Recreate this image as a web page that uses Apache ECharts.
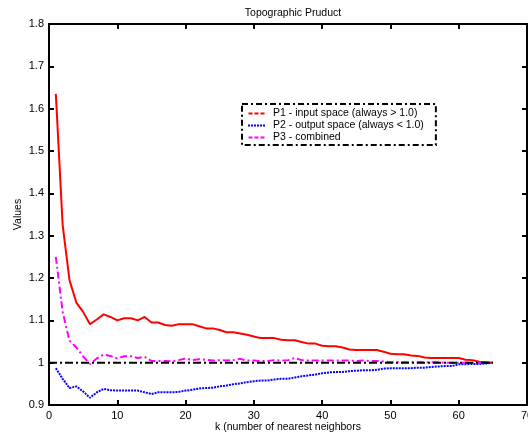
<!DOCTYPE html>
<html>
<head>
<meta charset="utf-8">
<script src="https://cdn.jsdelivr.net/npm/echarts@6/dist/echarts.min.js"></script>
<style>html,body{margin:0;padding:0;background:#fff}#c{width:528px;height:436px}</style>
</head>
<body>
<div id="c"></div>
<script>
var kValues = [1,2,3,4,5,6,7,8,9,10,11,12,13,14,15,16,17,18,19,20,21,22,23,24,25,26,27,28,29,30,31,32,33,34,35,36,37,38,39,40,41,42,43,44,45,46,47,48,49,50,51,52,53,54,55,56,57,58,59,60,61,62,63,64,65];
var p1 = [1.635,1.325,1.195,1.142,1.120,1.091,1.102,1.114,1.108,1.100,1.105,1.105,1.100,1.108,1.095,1.095,1.089,1.087,1.091,1.091,1.091,1.086,1.081,1.081,1.077,1.072,1.072,1.069,1.066,1.062,1.058,1.058,1.058,1.054,1.053,1.053,1.049,1.045,1.045,1.040,1.039,1.039,1.036,1.031,1.030,1.030,1.030,1.030,1.026,1.021,1.020,1.020,1.017,1.016,1.012,1.011,1.011,1.011,1.011,1.011,1.007,1.006,1.002,1.001,1.000];
var p2 = [0.987,0.962,0.940,0.944,0.932,0.917,0.930,0.938,0.935,0.934,0.934,0.934,0.934,0.930,0.926,0.930,0.930,0.930,0.931,0.934,0.936,0.939,0.940,0.941,0.944,0.946,0.949,0.951,0.954,0.956,0.958,0.958,0.960,0.962,0.962,0.965,0.968,0.970,0.972,0.975,0.977,0.978,0.978,0.980,0.981,0.982,0.982,0.983,0.986,0.987,0.987,0.987,0.987,0.988,0.988,0.990,0.991,0.992,0.992,0.996,0.996,0.997,0.997,0.998,1.000];
var p3 = [1.250,1.120,1.052,1.036,1.015,0.997,1.010,1.019,1.016,1.010,1.015,1.015,1.011,1.014,1.004,1.004,1.004,1.003,1.006,1.010,1.006,1.008,1.007,1.005,1.006,1.005,1.006,1.009,1.005,1.005,1.004,1.004,1.006,1.005,1.006,1.011,1.006,1.005,1.005,1.005,1.005,1.005,1.005,1.005,1.004,1.005,1.004,1.004,1.003,1.001,1.001,1.001,1.001,1.001,1.001,1.001,1.001,1.000,1.000,1.000,1.000,1.000,1.000,1.000,1.000];
var refX = [0, 65];
var refY = [1, 1];
var names = ['P1 - input space (always > 1.0)', 'P2 - output space (always < 1.0)', 'P3 - combined'];

function pairs(xs, ys){ return xs.map(function(x,i){ return [x, ys[i]]; }); }

var FONT = "'Liberation Sans', Arial, sans-serif";
var dashIcon = 'path://M0,0h4v2h-4z M6,0h4v2h-4z M12,0h4v2h-4z';
var dotIcon = 'path://M0,0h2v2h-2z M3,0h2v2h-2z M6,0h2v2h-2z M9,0h2v2h-2z M12,0h2v2h-2z M15,0h2v2h-2z';
var chart = echarts.init(document.getElementById('c'), null, {renderer:'canvas'});
var axisLine = {show:true, onZero:false, lineStyle:{color:'#000', width:2}};
var tick = {show:true, inside:true, length:5, lineStyle:{color:'#000', width:2}};

chart.setOption({
  animation:false,
  backgroundColor:'#fff',
  title:{text:'Topographic Pruduct', left:288, textAlign:'center', top:3,
    textStyle:{fontSize:10.5, fontWeight:'normal', color:'#000', fontFamily:FONT}},
  grid:{left:49, right:1, top:24, bottom:31, containLabel:false, outerBoundsMode:'none'},
  legend:{
    orient:'vertical', left:242, top:104,
    padding:[4,12,2,6], itemGap:1, itemWidth:17, itemHeight:2,
    borderColor:'#000', borderWidth:2, borderType:[6,3,2,3],
    backgroundColor:'#fff',
    textStyle:{fontSize:10.5, color:'#000', fontFamily:FONT, padding:[0,0,0,3]},
    data:[
      {name:names[0], icon:dashIcon},
      {name:names[1], icon:dotIcon},
      {name:names[2], icon:dashIcon}
    ]
  },
  xAxis:[
    {type:'value', min:0, max:70, interval:10, position:'bottom',
     axisLine:axisLine, axisTick:tick, splitLine:{show:false},
     axisLabel:{margin:5, color:'#000', fontSize:11, fontFamily:FONT},
     name:'k (number of nearest neighbors', nameLocation:'middle', nameGap:17, nameMoveOverlap:false,
     nameTextStyle:{fontSize:10.5, color:'#000', fontFamily:FONT}},
    {type:'value', min:0, max:70, interval:10, position:'top',
     axisLine:axisLine, axisTick:tick, splitLine:{show:false}, axisLabel:{show:false}}
  ],
  yAxis:[
    {type:'value', min:0.9, max:1.8, interval:0.1, position:'left',
     axisLine:axisLine, axisTick:tick, splitLine:{show:false},
     axisLabel:{margin:5, color:'#000', fontSize:11, fontFamily:FONT},
     name:'Values', nameLocation:'middle', nameGap:25, nameMoveOverlap:false,
     nameTextStyle:{fontSize:10.5, color:'#000', fontFamily:FONT}},
    {type:'value', min:0.9, max:1.8, interval:0.1, position:'right',
     axisLine:axisLine, axisTick:tick, splitLine:{show:false}, axisLabel:{show:false}}
  ],
  series:[
    {name:names[0], type:'line', data:pairs(kValues,p1), symbol:'none',
     lineStyle:{color:'#ff0000', width:2, type:'solid'}, itemStyle:{color:'#ff0000'}},
    {name:names[1], type:'line', data:pairs(kValues,p2), symbol:'none',
     lineStyle:{color:'#0000ff', width:2, type:[2,1]}, itemStyle:{color:'#0000ff'}},
    {name:names[2], type:'line', data:pairs(kValues,p3), symbol:'none',
     lineStyle:{color:'#ff00ff', width:2, type:[7,3,2,3]}, itemStyle:{color:'#ff00ff'}},
    {name:'ref', type:'line', data:pairs(refX,refY), symbol:'none', silent:true,
     lineStyle:{color:'#000', width:2, type:[8,3,2,3]}, itemStyle:{color:'#000'}}
  ]
});
</script>
</body>
</html>
